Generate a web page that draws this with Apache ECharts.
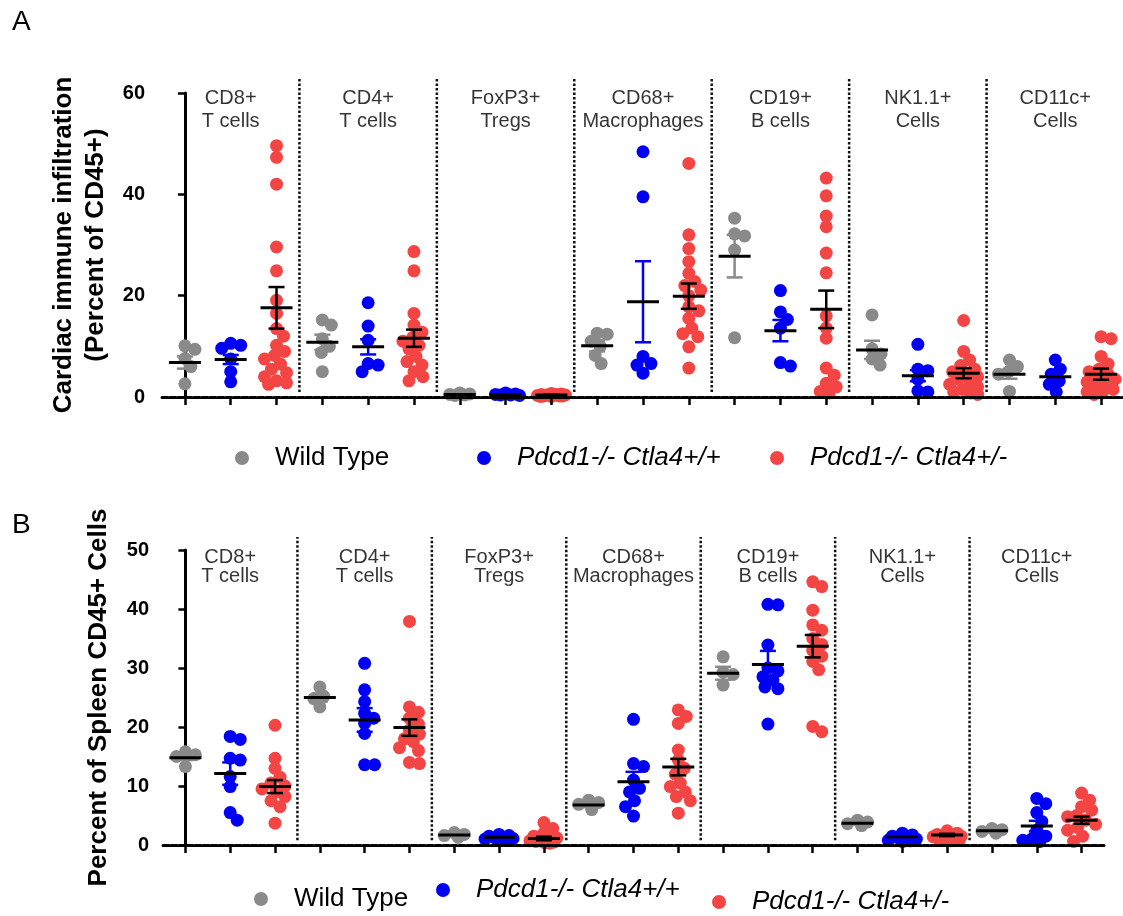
<!DOCTYPE html>
<html>
<head>
<meta charset="utf-8">
<title>Immune infiltration</title>
<script src="https://cdn.jsdelivr.net/npm/echarts@6/dist/echarts.min.js"></script>
<style>
  html, body { margin: 0; padding: 0; background: #fff; }
  #chart { width: 1123px; height: 916px; }
</style>
</head>
<body>
<div id="chart"></div>
<script>
// ---- data ----
const groups = ['CD8+\nT cells', 'CD4+\nT cells', 'FoxP3+\nTregs', 'CD68+\nMacrophages', 'CD19+\nB cells', 'NK1.1+\nCells', 'CD11c+\nCells'];
const genotypes = ['Wild Type', 'Pdcd1-/- Ctla4+/+', 'Pdcd1-/- Ctla4+/-'];
const tickSlots = ['0', '1', '2', '3', '4', '5', '6', '7', '8', '9', '10', '11', '12', '13', '14', '15', '16', '17', '18', '19', '20'];
const separators = [2.5, 5.5, 8.5, 11.5, 14.5, 17.5];

// A: cardiac infiltration (% of CD45+), one list per cell group
const heartWT = [
  [10.1, 9.4, 7.6, 6.0, 2.6],
  [15.2, 14.2, 11.5, 10.0, 8.8, 5.0],
  [0.8, 0.6, 0.5, 0.4, 0.3],
  [12.6, 12.4, 11.0, 10.0, 8.2, 6.6],
  [35.3, 32.2, 31.8, 29.0, 11.7],
  [16.2, 9.5, 8.5, 7.5, 6.3],
  [7.3, 6.0, 5.0, 4.5, 1.1]
];
const heartKO = [
  [10.6, 10.2, 9.6, 7.5, 5.0, 3.0],
  [18.6, 14.0, 11.2, 6.6, 6.3, 5.0],
  [0.8, 0.6, 0.5, 0.4, 0.4, 0.3],
  [48.4, 39.5, 8.0, 6.6, 6.3, 4.7],
  [21.0, 16.8, 15.3, 13.6, 6.8, 6.1],
  [10.4, 5.5, 5.2, 3.5, 1.2, 1.0],
  [7.3, 5.5, 4.5, 3.2, 2.5, 1.0]
];
const heartHet = [
  [49.6, 47.3, 42.0, 29.6, 24.9, 19.1, 16.5, 13.5, 12.0, 10.2, 9.0, 8.2, 7.5, 6.5, 5.5, 4.8, 4.0, 3.2, 2.8, 2.5],
  [28.7, 24.9, 16.5, 14.2, 12.8, 11.8, 11.0, 10.2, 9.5, 8.0, 7.0, 6.3, 5.0, 4.0, 3.2],
  [0.7, 0.6, 0.5, 0.5, 0.4, 0.4, 0.3, 0.3, 0.3, 0.2, 0.2, 0.2, 0.1, 0.1],
  [46.1, 32.0, 29.3, 26.7, 24.4, 22.8, 22.0, 21.1, 20.0, 17.8, 17.0, 15.5, 13.6, 12.5, 11.9, 9.9, 5.7],
  [43.2, 39.7, 35.7, 33.6, 28.4, 24.5, 16.0, 13.6, 11.6, 5.7, 4.3, 2.7, 2.0, 1.1, 0.8],
  [15.1, 9.0, 7.3, 6.2, 5.5, 5.0, 4.6, 4.0, 3.5, 3.0, 2.5, 2.0, 1.5, 1.0, 0.8, 0.5],
  [11.9, 11.5, 8.0, 6.5, 5.5, 5.0, 4.5, 4.0, 3.5, 3.0, 2.6, 2.0, 1.5, 1.0, 0.8, 0.5]
];
const heartMean = [
  [6.8, 10.8, 0.5, 10.1, 27.8, 9.3, 4.5],
  [7.4, 9.9, 0.5, 18.8, 13.1, 4.2, 4.0],
  [17.6, 11.6, 0.4, 19.9, 17.3, 4.7, 4.5]
];
const heartSem = [
  [1.2, 1.5, 0.1, 1.1, 4.2, 1.8, 0.9],
  [0.9, 1.5, 0.1, 8.0, 2.1, 1.1, 0.7],
  [4.1, 1.7, 0.05, 2.5, 3.7, 1.0, 1.1]
];

// B: spleen (% of CD45+ cells)
const spleenWT = [
  [15.8, 15.3, 15.0, 13.3],
  [26.8, 25.2, 24.8, 23.4],
  [2.1, 1.8, 1.6, 1.3],
  [7.6, 7.2, 6.9, 6.0],
  [31.9, 29.3, 28.9, 27.1],
  [4.2, 3.9, 3.6, 3.3],
  [2.8, 2.6, 2.3, 2.0]
];
const spleenKO = [
  [18.4, 17.9, 14.7, 14.4, 11.6, 9.9, 5.5, 4.2],
  [30.8, 26.3, 24.3, 22.3, 21.5, 20.6, 18.9, 13.6, 13.6],
  [1.8, 1.6, 1.5, 1.3, 1.2, 1.1, 1.0, 0.9, 0.8],
  [21.3, 13.8, 13.3, 11.0, 9.6, 9.0, 7.5, 6.5, 4.9],
  [40.8, 40.7, 33.9, 30.0, 29.5, 28.5, 28.0, 26.8, 26.5, 20.5],
  [2.0, 1.7, 1.5, 1.3, 1.2, 1.0, 0.8, 0.7, 0.6],
  [7.9, 7.0, 5.5, 4.0, 2.5, 1.5, 1.0, 0.8, 0.6]
];
const spleenHet = [
  [20.3, 14.7, 13.0, 11.5, 10.5, 10.0, 9.5, 9.0, 8.2, 7.5, 6.5, 3.7],
  [37.9, 23.4, 22.5, 21.5, 20.5, 19.5, 18.8, 18.0, 17.5, 16.5, 16.0, 14.0, 13.8],
  [3.8, 2.8, 2.0, 1.5, 1.2, 1.0, 0.8, 0.7, 0.6, 0.5, 0.4, 0.3],
  [22.9, 21.8, 20.6, 16.1, 14.4, 13.0, 12.0, 10.5, 9.9, 9.0, 8.2, 7.5, 5.4],
  [44.6, 43.8, 39.8, 37.3, 36.4, 35.0, 34.0, 33.0, 32.0, 31.1, 29.7, 20.1, 19.2],
  [2.4, 2.0, 1.8, 1.7, 1.6, 1.5, 1.4, 1.2, 1.0, 0.9, 0.8, 0.7],
  [8.8, 7.6, 6.5, 5.9, 5.0, 4.8, 4.2, 3.5, 3.0, 2.5, 1.5, 0.6]
];
const spleenMean = [
  [14.8, 25.0, 1.7, 6.8, 29.1, 3.7, 2.4],
  [12.1, 21.2, 1.3, 10.7, 30.6, 1.4, 3.2],
  [9.9, 19.9, 1.1, 13.2, 33.7, 1.7, 4.2]
];
const spleenSem = [
  [0.4, 0.7, 0.2, 0.4, 1.1, 0.2, 0.2],
  [1.9, 2.0, 0.1, 1.7, 2.3, 0.2, 0.9],
  [1.1, 1.4, 0.3, 1.4, 1.9, 0.2, 0.6]
];

// ---- styling ----
const dotColors = ['#8a8a8a', '#0000f5', '#f44545'];
const whiskerColors = ['#8a8a8a', '#0000f5', '#000'];
const FONT = 'Liberation Sans, Arial, sans-serif';

const panels = [
  {
    pts: [heartWT, heartKO, heartHet], mean: heartMean, sem: heartSem,
    yMax: 60, yStep: 20, name: 'Cardiac immune infiltration\n(Percent of CD45+)', labelMargin: 17,
    grid: { left: 162, top: 93, width: 962, height: 304 },
    sepTop: 62.8, sepBottom: 1.0, labelY: 61.3, labelLH: 23
  },
  {
    pts: [spleenWT, spleenKO, spleenHet], mean: spleenMean, sem: spleenSem,
    yMax: 50, yStep: 10, name: 'Percent of Spleen CD45+ Cells', labelMargin: 14,
    grid: { left: 163, top: 550, width: 941, height: 295 },
    sepTop: 52.2, sepBottom: 0.8, labelY: 50.4, labelLH: 19
  }
];

// horizontal spread of dots (beeswarm) so they do not pile up
function swarm(vals, pxX, pxY) {
  const order = vals.map((v, i) => i).sort((a, b) => vals[b] - vals[a]);
  const placed = [];
  const offs = [];
  order.forEach(i => {
    const yp = vals[i] * pxY;
    let best = 0, bestGap = -Infinity;
    for (let s = 0; s <= 28; s++) {
      const o = (s % 2 ? 1 : -1) * Math.ceil(s / 2);
      let gap = Infinity;
      placed.forEach(q => { gap = Math.min(gap, Math.hypot(o - q[0], yp - q[1])); });
      if (gap >= 10) { best = o; break; }
      if (gap > bestGap) { bestGap = gap; best = o; }
    }
    placed.push([best, yp]);
    offs[i] = best / pxX;
  });
  return offs;
}

function errBar(whisker) {
  return function (params, api) {
    const x = api.value(0), m = api.value(1), s = api.value(2);
    const c = api.coord([x, m]);
    const hi = api.coord([x, m + s]);
    const lo = api.coord([x, m - s]);
    return {
      type: 'group',
      children: [
        { type: 'line', shape: { x1: c[0], y1: hi[1], x2: c[0], y2: lo[1] }, style: { stroke: whisker, lineWidth: 2.5 } },
        { type: 'line', shape: { x1: c[0] - 8, y1: hi[1], x2: c[0] + 8, y2: hi[1] }, style: { stroke: whisker, lineWidth: 2.5 } },
        { type: 'line', shape: { x1: c[0] - 8, y1: lo[1], x2: c[0] + 8, y2: lo[1] }, style: { stroke: whisker, lineWidth: 2.5 } },
        { type: 'line', shape: { x1: c[0] - 16, y1: c[1], x2: c[0] + 16, y2: c[1] }, style: { stroke: '#000', lineWidth: 3 } }
      ]
    };
  };
}

const grids = [], xAxes = [], yAxes = [], series = [];

panels.forEach((p, pi) => {
  grids.push(Object.assign({ outerBoundsMode: 'none' }, p.grid));
  xAxes.push({ gridIndex: pi, type: 'value', min: -0.5, max: 20.5, show: false, position: 'top' });
  xAxes.push({
    gridIndex: pi, type: 'category', position: 'bottom', data: tickSlots, boundaryGap: true, z: 10,
    axisLine: { show: true, lineStyle: { color: '#000', width: 3, type: [6, 2] } },
    axisTick: { show: true, alignWithLabel: true, interval: 0, length: 8, lineStyle: { color: '#000', width: 2.5 } },
    axisLabel: { show: false },
    splitLine: { show: false }
  });
  yAxes.push({
    gridIndex: pi, type: 'value', min: 0, max: p.yMax, interval: p.yStep,
    name: p.name, nameLocation: 'middle', nameGap: 48,
    nameTextStyle: { fontFamily: FONT, fontSize: 26, fontWeight: 'bold', color: '#000', lineHeight: 32 },
    axisLine: { show: true, lineStyle: { color: '#000', width: 3 } },
    axisTick: { show: true, length: 7, lineStyle: { color: '#000', width: 2.5 } },
    axisLabel: { fontFamily: FONT, fontSize: 20, fontWeight: 'bold', color: '#000', margin: p.labelMargin },
    splitLine: { show: false }
  });

  const xi = pi * 2;
  const pxX = p.grid.width / 21, pxY = p.grid.height / p.yMax;

  p.pts.forEach((byGroup, k) => {
    const data = [];
    byGroup.forEach((vals, g) => {
      const offs = swarm(vals, pxX, pxY);
      vals.forEach((v, i) => data.push([g * 3 + k + offs[i], v]));
    });
    series.push({
      type: 'scatter', name: genotypes[k], xAxisIndex: xi, yAxisIndex: pi,
      data: data, symbolSize: 13, clip: false, z: 2,
      itemStyle: { color: dotColors[k], opacity: 1 }
    });
    series.push({
      type: 'custom', xAxisIndex: xi, yAxisIndex: pi, z: 4, silent: true,
      data: p.mean[k].map((m, g) => [g * 3 + k, m, p.sem[k][g]]),
      renderItem: errBar(whiskerColors[k])
    });
  });

  // dotted separators between cell groups
  series.push({
    type: 'custom', xAxisIndex: xi, yAxisIndex: pi, z: 3, silent: true, clip: false,
    data: separators.map(s => [s, p.sepBottom, p.sepTop]),
    renderItem: function (params, api) {
      const a = api.coord([api.value(0), api.value(1)]);
      const b = api.coord([api.value(0), api.value(2)]);
      return { type: 'line', shape: { x1: a[0], y1: a[1], x2: b[0], y2: b[1] }, style: { stroke: '#111', lineWidth: 2.5, lineDash: [2.5, 2] } };
    }
  });

  // group names above each block
  series.push({
    type: 'scatter', xAxisIndex: xi, yAxisIndex: pi, silent: true, clip: false, z: 5,
    symbolSize: 1, itemStyle: { color: 'rgba(0,0,0,0)' },
    data: groups.map((gName, g) => [g * 3 + 1, p.labelY]),
    label: {
      show: true, position: 'bottom', distance: 0, formatter: params => groups[params.dataIndex],
      fontFamily: FONT, fontSize: 20, lineHeight: p.labelLH, color: '#000', align: 'center',
      textBorderWidth: 0
    }
  });
});

function legendItem(name, left, top, italic) {
  return {
    data: [name], left: left, top: top, padding: 0, itemGap: 0, selectedMode: false,
    icon: 'circle', itemWidth: 40, itemHeight: 14,
    textStyle: { fontFamily: FONT, fontSize: 26, color: '#000', fontStyle: italic ? 'italic' : 'normal', padding: [0, 0, 0, 8] }
  };
}

const chart = echarts.init(document.getElementById('chart'), null, { renderer: 'canvas' });
chart.setOption({
  backgroundColor: '#fff',
  animation: false,
  textStyle: { fontFamily: FONT },
  title: [
    { text: 'A', left: 12, top: 8, padding: 0, textStyle: { fontFamily: FONT, fontSize: 28, fontWeight: 'normal', color: '#000' } },
    { text: 'B', left: 12, top: 511, padding: 0, textStyle: { fontFamily: FONT, fontSize: 28, fontWeight: 'normal', color: '#000' } }
  ],
  legend: [
    legendItem(genotypes[0], 235, 445, false),
    legendItem(genotypes[1], 477, 445, true),
    legendItem(genotypes[2], 770, 445, true),
    legendItem(genotypes[0], 254, 886, false),
    legendItem(genotypes[1], 436, 877, true),
    legendItem(genotypes[2], 712, 889, true)
  ],
  grid: grids,
  xAxis: xAxes,
  yAxis: yAxes,
  series: series
});
window.addEventListener('resize', () => chart.resize());
</script>
</body>
</html>
